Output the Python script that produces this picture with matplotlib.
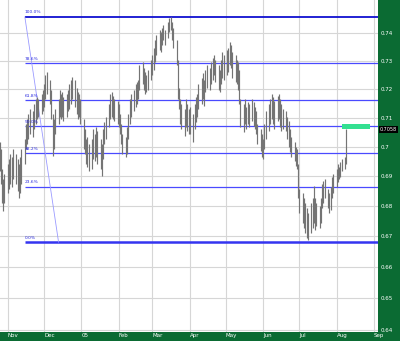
import matplotlib
matplotlib.use("Agg")
import matplotlib.pyplot as plt
import matplotlib.dates as mdates
import matplotlib.transforms as mtransforms
from matplotlib.ticker import NullLocator, FixedLocator
import pandas as pd
import numpy as np

# ---------------- data ----------------
highs = [
    # Oct 2004 (25-29)
    .7016, .6992, .6925, .6891, .6908,
    # Nov
    .6941, .6958, .6975, .6965, .6992, .6975, .6958, .6941, .6965, .6992, .7026,
    .7077, .7094, .7112, .7129, .7122, .7147, .7164, .7171, .7164, .7181, .7198,
    # Dec
    .7216, .7250, .7261, .7233, .7198, .7112, .7094, .7129, .7164, .7198, .7181,
    .7191, .7171, .7181, .7198, .7216, .7233, .7244, .7233, .7205, .7191, .7181, .7164,
    # Jan 2005
    .7094, .7060, .7026, .7033, .7009, .7026, .7060, .7043, .7067, .7053, .7026,
    .7009, .7060, .7084, .7101, .7147, .7181, .7188, .7174, .7164, .7157,
    # Feb
    .7147, .7112, .7077, .7043, .7033, .7067, .7112, .7164, .7181, .7198, .7216,
    .7226, .7233, .7286, .7296, .7275, .7261, .7250, .7268, .7303,
    # Mar
    .7321, .7346, .7375, .7393, .7411, .7404, .7418, .7429, .7411, .7440, .7454,
    .7458, .7440, .7418, .7375, .7303, .7205, .7164, .7147, .7129, .7164, .7147, .7129,
    # Apr
    .7136, .7112, .7147, .7171, .7181, .7216, .7240, .7258, .7233, .7268, .7286,
    .7275, .7296, .7310, .7321, .7303, .7286, .7268, .7303, .7332, .7321,
    # May
    .7339, .7346, .7368, .7357, .7332, .7321, .7303, .7296, .7268, .7164, .7147,
    .7164, .7136, .7154, .7147, .7164, .7154, .7136, .7122, .7077, .7060, .7043,
    # Jun
    .7026, .7077, .7122, .7147, .7164, .7181, .7171, .7157, .7174, .7181, .7164,
    .7147, .7129, .7122, .7101, .7087, .7060, .7033, .7016, .6999, .6992, .6941,
    # Jul
    .6858, .6842, .6825, .6809, .6792, .6776, .6809, .6825, .6868, .6825, .6809,
    .6799, .6825, .6875, .6884, .6891, .6858, .6842, .6865, .6898, .6908,
    # Aug (1-9)
    .6925, .6941, .6932, .6948, .6958, .6965, .7062,
]
lows = [
    # Oct 2004
    .6918, .6875, .6809, .6783, .6809,
    # Nov
    .6842, .6858, .6875, .6865, .6891, .6875, .6851, .6825, .6842, .6875, .6941,
    .6992, .7009, .7026, .7043, .7033, .7060, .7077, .7094, .7101, .7112, .7122,
    # Dec
    .7136, .7164, .7181, .7147, .7094, .6968, .6992, .7043, .7077, .7101, .7094,
    .7101, .7087, .7101, .7122, .7129, .7147, .7164, .7136, .7112, .7094, .7101, .7077,
    # Jan 2005
    .6992, .6975, .6941, .6932, .6918, .6925, .6958, .6951, .6965, .6941, .6925,
    .6901, .6958, .7009, .7026, .7067, .7094, .7101, .7094, .7087, .7077,
    # Feb
    .7067, .7043, .7009, .6975, .6965, .6975, .7026, .7077, .7101, .7122, .7136,
    .7147, .7164, .7198, .7216, .7198, .7181, .7191, .7198, .7233,
    # Mar
    .7250, .7268, .7296, .7321, .7339, .7332, .7357, .7375, .7357, .7382, .7404,
    .7411, .7375, .7346, .7286, .7164, .7129, .7077, .7060, .7036, .7067, .7053, .7043,
    # Apr
    .7043, .7016, .7060, .7084, .7101, .7129, .7147, .7164, .7140, .7191, .7205,
    .7198, .7216, .7233, .7250, .7226, .7198, .7188, .7216, .7240, .7233,
    # May
    .7250, .7261, .7286, .7275, .7240, .7226, .7216, .7198, .7147, .7067, .7050,
    .7077, .7060, .7077, .7067, .7087, .7070, .7060, .7043, .7009, .6985, .6965,
    # Jun
    .6958, .6992, .7026, .7053, .7077, .7094, .7077, .7060, .7087, .7094, .7067,
    .7053, .7060, .7053, .7026, .6999, .6982, .6965, .6951, .6935, .6925, .6825,
    # Jul
    .6776, .6743, .6727, .6711, .6694, .6688, .6711, .6727, .6743, .6720, .6734,
    .6727, .6743, .6792, .6809, .6825, .6792, .6776, .6786, .6825, .6842,
    # Aug (1-9)
    .6865, .6881, .6891, .6898, .6918, .6925, .6941,
]
start_date = "2004-10-25"
last_price = 0.7058

fib_high = 0.7458
fib_low = 0.6681
fib_ratios = [1.0, 0.786, 0.618, 0.5, 0.382, 0.236, 0.0]
fib_labels = ["100.0%", "78.6%", "61.8%", "50.0%", "38.2%", "23.6%", "0.0%"]
fib_start = "2004-11-15"
fib_diag_end = "2004-12-13"

zone_dates = ["2005-08-05", "2005-08-29"]
zone_prices = [0.7061, 0.7078]

month_starts = ["2004-11-01", "2004-12-01", "2005-01-01", "2005-02-01", "2005-03-01",
                "2005-04-01", "2005-05-01", "2005-06-01", "2005-07-01", "2005-08-01",
                "2005-09-01"]
month_labels = ["Nov", "Dec", "05", "Feb", "Mar", "Apr", "May", "Jun", "Jul", "Aug", "Sep"]

y_ticks = [0.64, 0.65, 0.66, 0.67, 0.68, 0.69, 0.70, 0.71, 0.72, 0.73, 0.74]

# ---------------- figure ----------------
GREEN = "#0b6b33"
fig = plt.figure(figsize=(4.0, 3.41), dpi=100, facecolor=GREEN)
ax = fig.add_axes([0.0, 9 / 341, 378 / 400, 332 / 341])
ax.set_facecolor("white")

dates = pd.bdate_range(start=start_date, periods=len(highs))
xd = mdates.date2num(dates.to_pydatetime())

ax.set_yscale("log")
ax.set_ylim(0.6394, 0.7520)
x0 = mdates.date2num(pd.Timestamp("2004-11-01")) - 6.64
x1 = mdates.date2num(pd.Timestamp("2004-11-01")) + 307.3
ax.set_xlim(x0, x1)

# grid
mx = [mdates.date2num(pd.Timestamp(d)) for d in month_starts]
for v in mx:
    ax.axvline(v, color="#d6d6d6", lw=0.8, zorder=0)
for t in y_ticks:
    ax.axhline(t, color="#d6d6d6", lw=0.8, zorder=0)

# price bars
ax.vlines(xd, lows, highs, color="#747474", lw=0.85, zorder=3)

# fib levels
fx = mdates.date2num(pd.Timestamp(fib_start))
for r, lab in zip(fib_ratios, fib_labels):
    lvl = fib_low + r * (fib_high - fib_low)
    if r == 1.0:
        c, lw = "#1010d0", 1.3
    elif r == 0.0:
        c, lw = "#3434f0", 1.8
    else:
        c, lw = "#4a4aff", 0.9
    ax.plot([fx, x1], [lvl, lvl], color=c, lw=lw, zorder=2, solid_capstyle="butt")
    ax.text(fx, lvl * 1.0012, lab, fontsize=3.2, color="#2a2ae0", ha="left", va="bottom", zorder=4)

fxe = mdates.date2num(pd.Timestamp(fib_diag_end))
ax.plot([fx, fxe], [fib_high, fib_low], color="#9a9aff", lw=0.6, zorder=2)

# target zone
zx = [mdates.date2num(pd.Timestamp(d)) for d in zone_dates]
ax.fill_between(zx, zone_prices[0], zone_prices[1], color="#33e091", lw=0, zorder=4)

# axes styling
for s in ax.spines.values():
    s.set_visible(False)
ax.yaxis.tick_right()
ax.yaxis.set_major_locator(FixedLocator(y_ticks))
ax.yaxis.set_minor_locator(NullLocator())
ax.set_yticklabels(["%g" % t for t in y_ticks])
ax.tick_params(axis="y", length=0, pad=2, labelsize=4, labelcolor="white")

ax.set_xticks([])
ax.xaxis.set_minor_locator(NullLocator())
for v, lab in zip(mx, month_labels):
    ax.text(v, -0.004, lab, transform=mtransforms.blended_transform_factory(ax.transData, ax.transAxes),
            fontsize=4, color="white", ha="left", va="top", clip_on=False)

# current price label
ax.text(1.005, last_price, "%.4f" % last_price,
        transform=mtransforms.blended_transform_factory(ax.transAxes, ax.transData),
        fontsize=3.5, color="white", ha="left", va="center", clip_on=False,
        bbox=dict(boxstyle="square,pad=0.25", fc="black", ec="none"), zorder=6)

fig.savefig("out.png", dpi=100, facecolor=GREEN)
